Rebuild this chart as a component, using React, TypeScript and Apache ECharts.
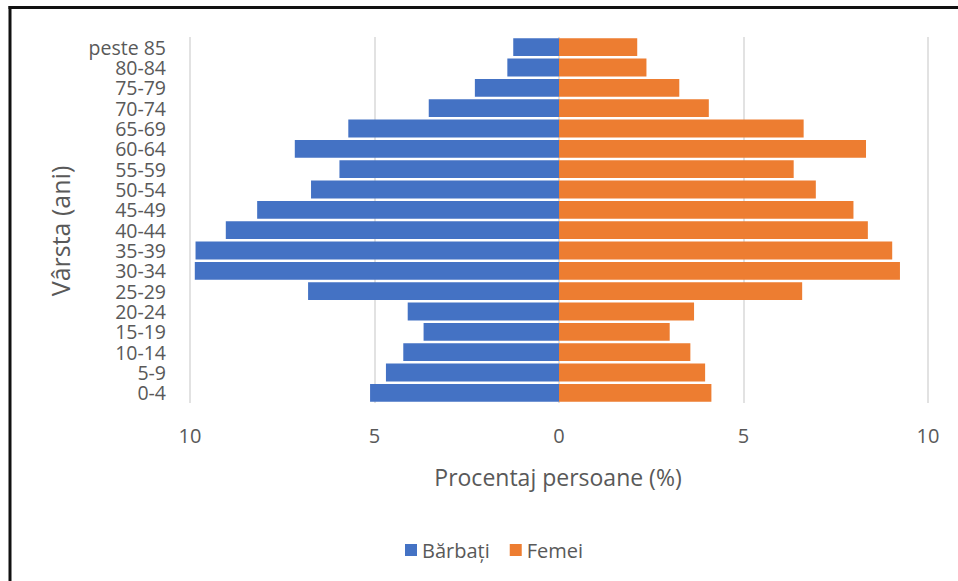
import React, { useEffect, useRef } from "react";
import * as echarts from "echarts";

const categories = ["0-4", "5-9", "10-14", "15-19", "20-24", "25-29", "30-34", "35-39", "40-44", "45-49", "50-54", "55-59", "60-64", "65-69", "70-74", "75-79", "80-84", "peste 85"];
const barbati = [5.12, 4.69, 4.22, 3.67, 4.10, 6.80, 9.87, 9.85, 9.03, 8.18, 6.72, 5.95, 7.16, 5.71, 3.53, 2.28, 1.40, 1.24];
const femei = [4.13, 3.96, 3.56, 3.00, 3.66, 6.59, 9.24, 9.03, 8.37, 7.98, 6.96, 6.36, 8.32, 6.63, 4.06, 3.26, 2.37, 2.12];
const seriesNames = ["Bărbați", "Femei"];
const xTitle = "Procentaj persoane (%)";
const yTitle = "Vârsta (ani)";

const FONT = "'Open Sans', sans-serif";
const TXT = "#595959";

export default function App() {
  const ref = useRef<HTMLDivElement>(null);
  useEffect(() => {
    if (!ref.current) return;
    const chart = echarts.init(ref.current, undefined, { renderer: "svg" });
    chart.setOption({
      animation: false,
      backgroundColor: "#ffffff",
      textStyle: { fontFamily: FONT, color: TXT },
      grid: { left: 190, right: 30, top: 37, bottom: 178, containLabel: false },
      legend: {
        data: seriesNames,
        left: 400,
        top: 535,
        icon: "rect",
        itemWidth: 12,
        itemHeight: 12,
        itemGap: 20,
        textStyle: { fontFamily: FONT, fontSize: 20, color: TXT },
      },
      xAxis: {
        type: "value",
        min: -10,
        max: 10,
        interval: 5,
        axisLine: { show: false },
        axisTick: { show: false },
        splitLine: { show: true, lineStyle: { color: "#d9d9d9", width: 1.5 } },
        axisLabel: {
          fontFamily: FONT,
          fontSize: 20,
          color: TXT,
          margin: 22,
          formatter: (v: number) => String(Math.abs(v)),
        },
      },
      yAxis: {
        type: "category",
        data: categories,
        axisLine: { show: false },
        axisTick: { show: false },
        axisLabel: { fontFamily: FONT, fontSize: 19.5, lineHeight: 19, color: TXT, margin: 24, interval: 0 },
      },
      series: [
        {
          name: seriesNames[0],
          type: "bar",
          stack: "total",
          barCategoryGap: "12%",
          itemStyle: { color: "#4472C4" },
          data: barbati.map((v) => -v),
        },
        {
          name: seriesNames[1],
          type: "bar",
          stack: "total",
          barCategoryGap: "12%",
          itemStyle: { color: "#ED7D31" },
          data: femei,
        },
      ],
      graphic: [
        {
          type: "text",
          x: 558,
          y: 477,
          style: { text: xTitle, fontFamily: FONT, fontSize: 23, fill: TXT, align: "center", verticalAlign: "middle" },
        },
        {
          type: "text",
          x: 60,
          y: 231,
          rotation: Math.PI / 2,
          style: { text: yTitle, fontFamily: FONT, fontSize: 25, fill: TXT, align: "center", verticalAlign: "middle" },
        },
        {
          type: "line",
          shape: { x1: 10, y1: 6, x2: 10, y2: 581 },
          style: { stroke: "#111", lineWidth: 3 },
        },
        {
          type: "line",
          shape: { x1: 8.5, y1: 7.5, x2: 958, y2: 7.5 },
          style: { stroke: "#111", lineWidth: 3 },
        },
      ],
    });
    return () => chart.dispose();
  }, []);
  return (
    <div
      ref={ref}
      style={{ position: "absolute", left: 0, top: 0, width: 958, height: 581 }}
    />
  );
}
